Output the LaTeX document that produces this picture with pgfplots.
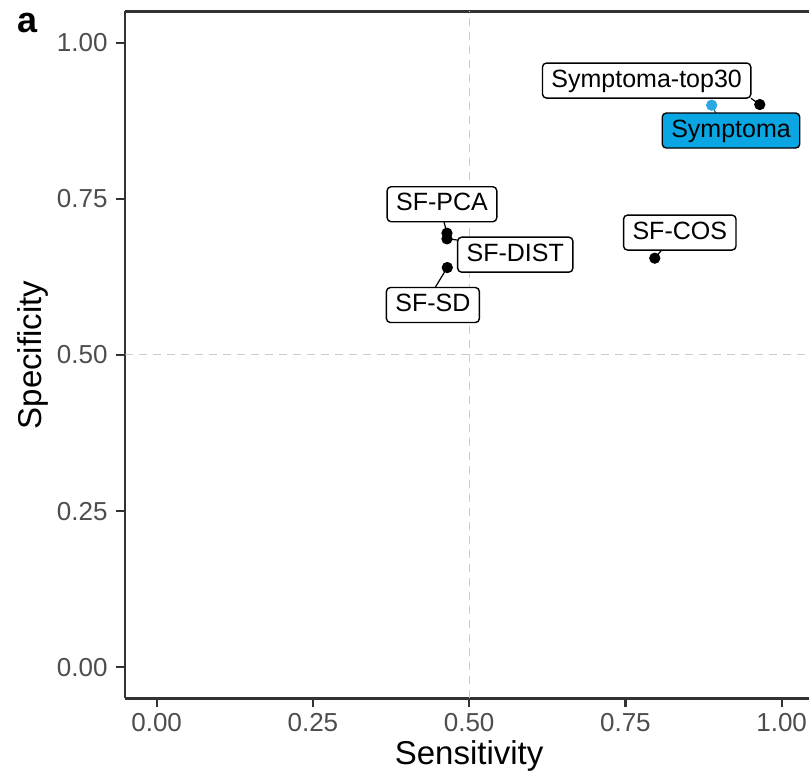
\documentclass[border=0pt]{standalone}
\usepackage{pgfplots}
\pgfplotsset{compat=1.18}
\usepackage{fontspec}
\setmainfont{Liberation Sans}
\definecolor{axcol}{HTML}{333333}
\definecolor{tickcol}{HTML}{4D4D4D}
\definecolor{gridcol}{HTML}{CCCCCC}
\definecolor{symfill}{HTML}{0AA6E4}
\definecolor{sympt}{HTML}{2AA8E2}
\tikzset{lab/.style={draw=black, line width=0.7pt, rounded corners=2pt, fill=white,
    font=\fontsize{12.5}{14}\selectfont, inner xsep=4.5pt, inner ysep=0pt,
    text height=9.2pt, text depth=2.6pt, minimum height=17.5pt}}

\begin{document}
\begin{tikzpicture}
\useasboundingbox (-62.7pt,-38.75pt) rectangle (341.8pt,349.25pt);
\begin{axis}[
  scale only axis,
  width=343.75pt, height=343.5pt,
  xmin=-0.05, xmax=1.05, ymin=-0.05, ymax=1.05,
  axis x line*=box, axis y line*=left,
  xtick={0,0.25,0.5,0.75,1}, ytick={0,0.25,0.5,0.75,1},
  xticklabels={0.00,0.25,0.50,0.75,1.00},
  yticklabels={0.00,0.25,0.50,0.75,1.00},
  xtick pos=bottom, ytick pos=left,
  tick align=outside, major tick length=4.5pt,
  tick style={axcol, line width=1.1pt},
  axis line style={axcol, line width=1.1pt},
  ticklabel style={font=\fontsize{13}{15}\selectfont, text=tickcol},
  /pgf/number format/assume math mode=true,
  xticklabel style={anchor=north, inner sep=0pt, yshift=-2.75pt},
  yticklabel style={anchor=east, inner sep=0pt, xshift=-4.2pt},
  xlabel={Sensitivity}, ylabel={Specificity},
  label style={font=\fontsize{16.5}{19}\selectfont},
  xlabel style={at={(rel axis cs:0.5,0)}, anchor=base, inner sep=0pt, yshift=-33pt},
  ylabel style={at={(rel axis cs:0,0.5)}, anchor=base, inner sep=0pt, yshift=41.7pt},
]

% reference lines at 0.5
\addplot[gridcol, line width=0.5pt, dash pattern=on 4pt off 3pt] coordinates {(0.5,-0.05) (0.5,1.05)};
\addplot[gridcol, line width=0.5pt, dash pattern=on 4pt off 3pt] coordinates {(-0.05,0.5) (1.05,0.5)};

% methods: sensitivity, specificity
\addplot[only marks, mark=*, mark size=2.6pt, black] coordinates {
  (0.965,0.901) (0.4645,0.695) (0.4645,0.686) (0.465,0.640) (0.797,0.655)
};
\addplot[only marks, mark=*, mark size=2.6pt, sympt, mark options={draw=sympt, fill=sympt}] coordinates {
  (0.888,0.900)
};

% repel segments
\draw[black, line width=0.6pt] (axis cs:0.965,0.901) -- (axis cs:0.951,0.911);
\draw[sympt!60!black, line width=0.6pt] (axis cs:0.888,0.900) -- (axis cs:0.895,0.887);
\draw[black, line width=0.6pt] (axis cs:0.4645,0.695) -- (axis cs:0.4597,0.7134);
\draw[black, line width=0.6pt] (axis cs:0.4645,0.686) -- (axis cs:0.482,0.684);
\draw[black, line width=0.6pt] (axis cs:0.465,0.640) -- (axis cs:0.445,0.607);
\draw[black, line width=0.6pt] (axis cs:0.797,0.655) -- (axis cs:0.808,0.668);

% labels
\node[lab] at (axis cs:0.784,0.9394) {Symptoma-top30};
\node[lab, fill=symfill] at (axis cs:0.919,0.8594) {Symptoma};
\node[lab] at (axis cs:0.4565,0.7414) {SF-PCA};
\node[lab] at (axis cs:0.5738,0.6606) {SF-DIST};
\node[lab] at (axis cs:0.442,0.580) {SF-SD};
\node[lab] at (axis cs:0.837,0.696) {SF-COS};
\end{axis}
\node[anchor=base, font=\bfseries\fontsize{18}{20}\selectfont, xshift=-48.7pt, yshift=-10.75pt]
  at (current axis.north west) {a};
\end{tikzpicture}
\end{document}
